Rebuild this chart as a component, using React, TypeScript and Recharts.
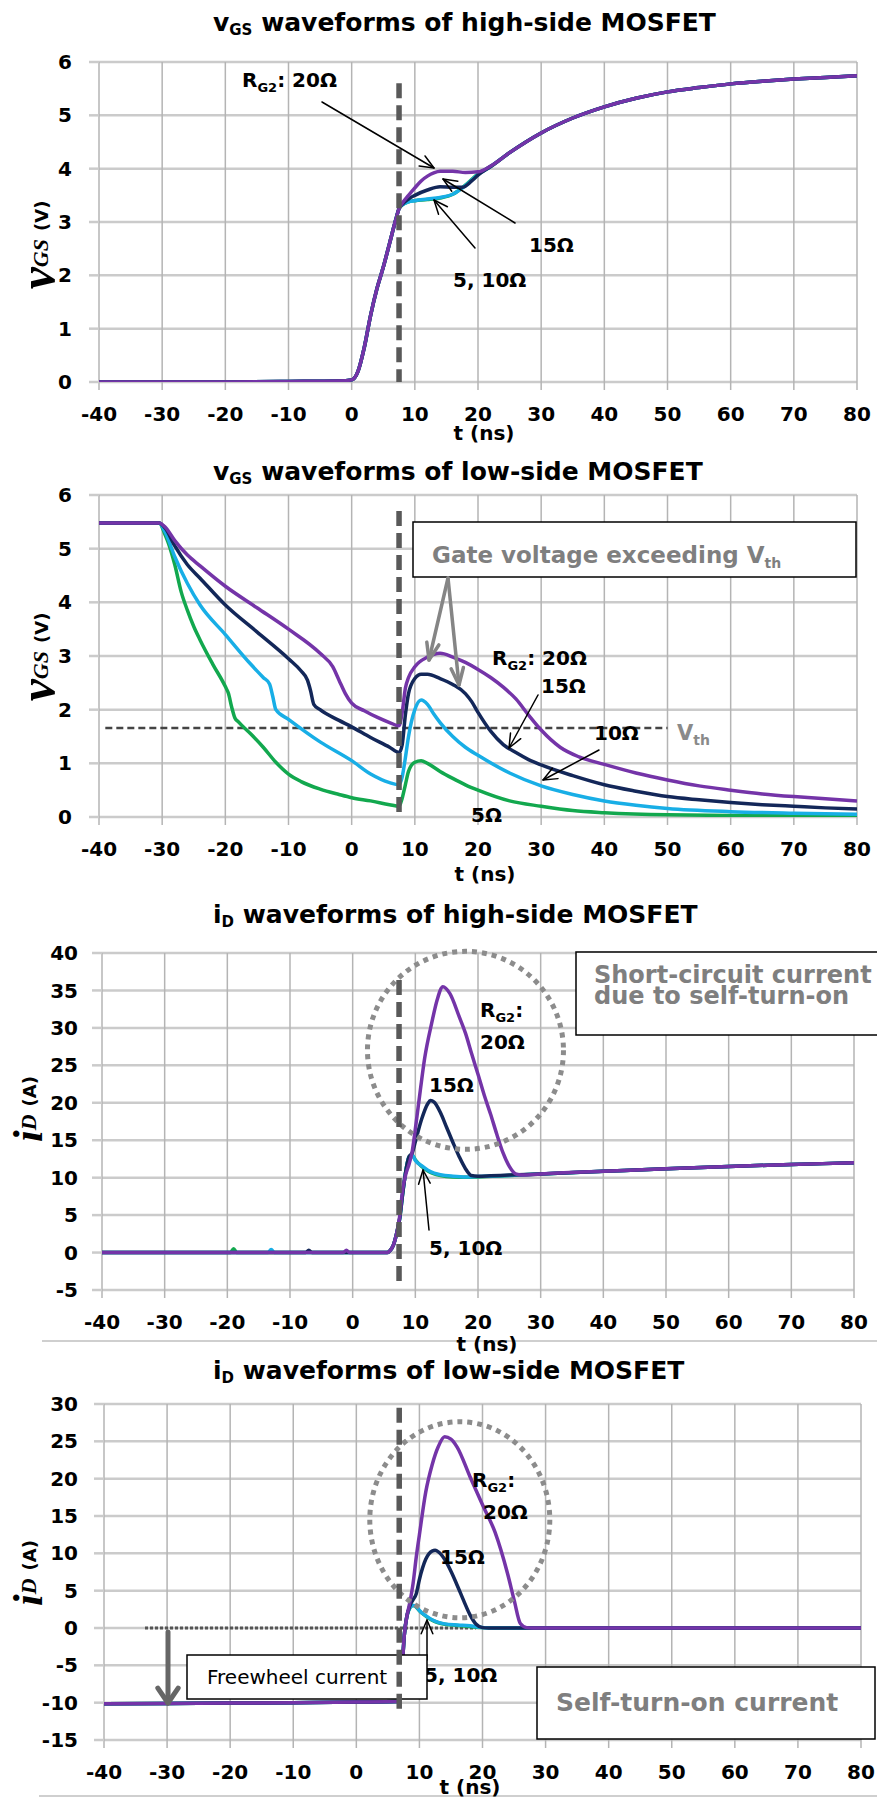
import React from 'react';
import { LineChart, Line, XAxis, YAxis, CartesianGrid, ReferenceLine } from 'recharts';

const W = 877;
const SANS = "'DejaVu Sans', Verdana, sans-serif";
const SERIF = "'Liberation Serif', 'Times New Roman', serif";

const C5 = '#12a84e';
const C10 = '#18aee6';
const C15 = '#132759';
const C20 = '#7434a8';

const T_TICKS = [-40, -30, -20, -10, 0, 10, 20, 30, 40, 50, 60, 70, 80];
const VGS_TICKS = [0, 1, 2, 3, 4, 5, 6];
const IDH_TICKS = [-5, 0, 5, 10, 15, 20, 25, 30, 35, 40];
const IDL_TICKS = [-15, -10, -5, 0, 5, 10, 15, 20, 25, 30];

// ---- Panel 1: vGS high-side ----
const HV_T_20 = [-40, -20, -10, -2, 0, 1, 2, 3, 4, 5, 6, 7, 7.5, 8, 9, 10, 11, 12, 13, 14, 16, 18, 20, 22, 25, 30, 35, 40, 45, 50, 55, 60, 65, 70, 75, 80];
const HV_V_20 = [0, 0, 0.01, 0.02, 0.04, 0.2, 0.65, 1.25, 1.75, 2.15, 2.6, 3.05, 3.25, 3.35, 3.5, 3.64, 3.77, 3.86, 3.92, 3.95, 3.95, 3.93, 3.94, 4.05, 4.3, 4.67, 4.95, 5.16, 5.32, 5.44, 5.52, 5.59, 5.64, 5.68, 5.71, 5.74];
const HV_T_15 = [-40, -20, -10, -2, 0, 1, 2, 3, 4, 5, 6, 7, 7.5, 8, 9, 10, 12, 14, 16, 17.5, 19, 20, 22, 25, 30, 35, 40, 45, 50, 55, 60, 65, 70, 75, 80];
const HV_V_15 = [0, 0, 0.01, 0.02, 0.04, 0.2, 0.65, 1.25, 1.75, 2.15, 2.6, 3.05, 3.25, 3.33, 3.43, 3.5, 3.6, 3.66, 3.65, 3.65, 3.77, 3.88, 4.04, 4.3, 4.67, 4.95, 5.16, 5.32, 5.44, 5.52, 5.59, 5.64, 5.68, 5.71, 5.74];
const HV_T_10 = [-40, -20, -10, -2, 0, 1, 2, 3, 4, 5, 6, 7, 7.5, 8, 9, 10, 12, 14, 16, 18, 20, 22, 25, 30, 35, 40, 45, 50, 55, 60, 65, 70, 75, 80];
const HV_V_10 = [0, 0, 0.01, 0.02, 0.04, 0.2, 0.65, 1.25, 1.75, 2.15, 2.6, 3.05, 3.25, 3.32, 3.38, 3.4, 3.43, 3.46, 3.52, 3.68, 3.89, 4.04, 4.3, 4.67, 4.95, 5.16, 5.32, 5.44, 5.52, 5.59, 5.64, 5.68, 5.71, 5.74];
const HV_T_5 = [-40, -20, -10, -2, 0, 1, 2, 3, 4, 5, 6, 7, 7.5, 8, 9, 10, 12, 14, 16, 18, 20, 22, 25, 30, 35, 40, 45, 50, 55, 60, 65, 70, 75, 80];
const HV_V_5 = [0, 0, 0.01, 0.02, 0.04, 0.2, 0.65, 1.25, 1.75, 2.15, 2.6, 3.05, 3.25, 3.32, 3.38, 3.4, 3.42, 3.45, 3.52, 3.69, 3.9, 4.04, 4.3, 4.67, 4.95, 5.16, 5.32, 5.44, 5.52, 5.59, 5.64, 5.68, 5.71, 5.74];

// ---- Panel 2: vGS low-side ----
const LV_T_20 = [-40, -30.5, -29.5, -28, -26, -24, -20, -15, -10, -5, -3, -2, -1, 0, 2, 4, 6, 7.5, 8, 8.5, 9, 10, 12, 14, 16, 18, 20, 22, 24, 26, 28, 30, 33, 36, 40, 45, 50, 55, 60, 65, 70, 75, 80];
const LV_V_20 = [5.48, 5.48, 5.4, 5.15, 4.88, 4.68, 4.3, 3.9, 3.5, 3.05, 2.8, 2.55, 2.3, 2.12, 1.98, 1.86, 1.76, 1.7, 1.95, 2.4, 2.6, 2.8, 2.98, 3.05, 2.98, 2.88, 2.75, 2.6, 2.42, 2.2, 1.9, 1.62, 1.3, 1.12, 0.98, 0.82, 0.69, 0.58, 0.5, 0.43, 0.38, 0.34, 0.3];
const LV_T_15 = [-40, -30.5, -29.5, -28, -26, -24, -20, -15, -10, -8, -7, -6.5, -6, -5, -2, 0, 3, 6, 7.5, 8, 8.5, 9, 10, 11, 12, 14, 16, 18, 19, 20, 22, 24, 26, 28, 30, 35, 40, 45, 50, 55, 60, 65, 70, 75, 80];
const LV_V_15 = [5.48, 5.48, 5.38, 5.05, 4.7, 4.45, 3.95, 3.45, 2.95, 2.72, 2.55, 2.35, 2.1, 2.0, 1.8, 1.68, 1.48, 1.3, 1.2, 1.35, 1.9, 2.3, 2.58, 2.66, 2.66, 2.58, 2.47, 2.3, 2.15, 1.95, 1.6, 1.35, 1.2, 1.07, 0.97, 0.77, 0.6, 0.48, 0.38, 0.32, 0.27, 0.23, 0.2, 0.17, 0.15];
const LV_T_10 = [-40, -30.5, -29.5, -28, -26, -24, -20, -16, -14, -13, -12.5, -12, -10, -5, 0, 3, 6, 7.5, 8, 8.5, 9, 10, 11, 12, 13, 14, 16, 18, 20, 25, 30, 35, 40, 45, 50, 60, 70, 80];
const LV_V_10 = [5.48, 5.48, 5.3, 4.85, 4.35, 3.95, 3.4, 2.85, 2.6, 2.48, 2.25, 2.0, 1.82, 1.4, 1.05, 0.8, 0.64, 0.6, 0.75, 1.1, 1.5, 2.0, 2.18, 2.1, 1.92, 1.76, 1.5, 1.3, 1.15, 0.82, 0.58, 0.42, 0.3, 0.22, 0.16, 0.1, 0.07, 0.05];
const LV_T_5 = [-40, -30.5, -29.5, -29, -28, -27, -26, -25, -24, -22, -20, -19.5, -19, -18.5, -18, -16, -14, -12, -10, -8, -5, -2, 0, 3, 6, 7.5, 8, 8.5, 9, 10, 11, 12, 14, 16, 18, 20, 25, 30, 35, 40, 50, 60, 80];
const LV_V_5 = [5.48, 5.48, 5.25, 5.1, 4.7, 4.2, 3.85, 3.55, 3.3, 2.85, 2.43, 2.3, 2.05, 1.85, 1.78, 1.55, 1.3, 1.02, 0.8, 0.66, 0.52, 0.42, 0.36, 0.3, 0.23, 0.2, 0.35, 0.6, 0.85, 1.02, 1.05, 1.0, 0.85, 0.72, 0.6, 0.5, 0.3, 0.2, 0.12, 0.08, 0.04, 0.03, 0.02];

// ---- Panel 3: iD high-side ----
const IH_T_5 = [-40, -20, -19.5, -19, -18.5, -10, 0, 5.5, 6, 6.5, 7, 7.5, 8, 8.5, 9, 9.5, 10, 11, 12, 13, 14, 16, 18, 20, 25, 30, 40, 50, 60, 70, 80];
const IH_V_5 = [0, 0, 0, 0.5, 0, 0, 0, 0, 0.3, 1, 2.5, 4.5, 8, 11, 12.8, 13, 12.4, 11.5, 10.9, 10.5, 10.3, 10.1, 10.05, 10.1, 10.3, 10.5, 10.85, 11.2, 11.5, 11.75, 12];
const IH_T_10 = [-40, -13.5, -13, -12.5, 0, 5.5, 6, 6.5, 7, 7.5, 8, 8.5, 9, 9.5, 10, 11, 12, 13, 14, 16, 18, 20, 25, 30, 40, 50, 60, 70, 80];
const IH_V_10 = [0, 0, 0.4, 0, 0, 0, 0.3, 1, 2.5, 4.5, 8, 11, 12.8, 13, 12.3, 11.6, 11, 10.6, 10.4, 10.2, 10.1, 10.15, 10.3, 10.5, 10.85, 11.2, 11.5, 11.75, 12];
const IH_T_15 = [-40, -7.5, -7, -6.5, 0, 5.5, 6, 6.5, 7, 7.5, 8, 8.5, 9, 9.5, 10, 11, 12, 12.4, 13, 14, 15, 16, 17, 18, 18.9, 20, 22, 25, 30, 40, 50, 60, 70, 80];
const IH_V_15 = [0, 0, 0.3, 0, 0, 0, 0.3, 1, 2.5, 4.5, 8, 11, 12.8, 13.3, 14.8, 17.8, 19.9, 20.3, 20.1, 18.7, 16.7, 14.7, 12.8, 11.2, 10.3, 10.2, 10.25, 10.35, 10.5, 10.85, 11.2, 11.5, 11.75, 12];
const IH_T_20 = [-40, -1.5, -1, -0.5, 5.5, 6, 6.5, 7, 7.5, 8, 8.5, 9, 9.5, 10, 10.8, 11.5, 12.6, 13.5, 14.4, 15.5, 17, 18, 19, 20, 21, 22, 23, 24, 25, 26, 27, 30, 40, 50, 60, 70, 80];
const IH_V_20 = [0, 0, 0.3, 0, 0, 0.3, 1, 2.5, 4.8, 8.5, 10.5, 11.8, 13.5, 16.5, 21.7, 26, 30.6, 33.8, 35.5, 34.6, 31.5, 29.3, 26.5, 23.8, 21, 18.5, 15.8, 13.3, 11.5, 10.5, 10.35, 10.5, 10.85, 11.2, 11.5, 11.75, 12];

// ---- Panel 4: iD low-side ----
const IL_T_5 = [-40, -30, -20, -10, 0, 6.5, 7, 7.3, 7.6, 8, 8.5, 9, 9.5, 10, 11, 12, 13, 14, 16, 18, 20, 22, 30, 40, 50, 60, 70, 80];
const IL_V_5 = [-10.15, -10.1, -10.05, -10, -9.92, -9.85, -9.3, -5, -1, 1.5, 2.7, 3.0, 2.8, 2.3, 1.6, 1.05, 0.7, 0.5, 0.35, 0.2, 0.05, 0, 0, 0, 0, 0, 0, 0];
const IL_T_10 = [-40, -30, -20, -10, 0, 6.5, 7, 7.3, 7.6, 8, 8.5, 9, 9.5, 10, 11, 12, 13, 14, 16, 18, 19.5, 21, 30, 40, 50, 60, 70, 80];
const IL_V_10 = [-10.15, -10.1, -10.05, -10, -9.92, -9.85, -9.3, -5, -1, 1.5, 2.7, 3.0, 2.85, 2.35, 1.65, 1.1, 0.75, 0.55, 0.4, 0.3, 0.1, 0, 0, 0, 0, 0, 0, 0];
const IL_T_15 = [-40, -30, -20, -10, 0, 6.5, 7, 7.3, 7.6, 8, 8.5, 9, 9.5, 10, 11, 12, 12.5, 13, 14, 15, 16, 17, 18, 19, 20, 21, 30, 40, 50, 60, 70, 80];
const IL_V_15 = [-10.15, -10.1, -10.05, -10, -9.92, -9.85, -9.3, -5, -1, 1.5, 3.0, 3.8, 4.6, 6.5, 9.2, 10.3, 10.4, 10.2, 9.2, 7.6, 5.7, 3.7, 1.8, 0.5, 0.05, 0, 0, 0, 0, 0, 0, 0];
const IL_T_20 = [-40, -30, -20, -10, 0, 6.5, 7, 7.3, 7.6, 8, 8.5, 9, 9.5, 10, 11, 12, 13, 14, 15, 16, 18, 20, 22, 24, 25, 26, 27, 28, 30, 40, 50, 60, 70, 80];
const IL_V_20 = [-10.15, -10.1, -10.05, -10, -9.92, -9.85, -9.3, -5, -1, 1.5, 3.5, 6, 9.5, 12.5, 18.2, 21.8, 24.3, 25.6, 25.3, 24.2, 20.3, 16.5, 12.8, 7.2, 3.8, 0.6, 0.05, 0, 0, 0, 0, 0, 0, 0];

type Pt = { t: number; v: number };
const zip = (t: number[], v: number[]): Pt[] => t.map((x, i) => ({ t: x, v: v[i] }));

type Geo = { top: number; height: number; left: number; right: number; plotTop: number; plotBottom: number; min: number; max: number };
const G1: Geo = { top: 0, height: 450, left: 99, right: 857, plotTop: 62, plotBottom: 382, min: 0, max: 6 };
const G2: Geo = { top: 450, height: 440, left: 99, right: 857, plotTop: 495, plotBottom: 817, min: 0, max: 6 };
const G3: Geo = { top: 890, height: 450, left: 102, right: 854, plotTop: 953, plotBottom: 1290, min: -5, max: 40 };
const G4: Geo = { top: 1340, height: 460, left: 104, right: 861, plotTop: 1404, plotBottom: 1740, min: -15, max: 30 };

const X = (g: Geo, t: number) => g.left + ((t + 40) / 120) * (g.right - g.left);
const Y = (g: Geo, v: number) => g.plotTop + ((g.max - v) / (g.max - g.min)) * (g.plotBottom - g.plotTop);

type Series = { key: string; color: string; data: Pt[] };

const S1: Series[] = [
  { key: 'r5', color: C5, data: zip(HV_T_5, HV_V_5) },
  { key: 'r10', color: C10, data: zip(HV_T_10, HV_V_10) },
  { key: 'r15', color: C15, data: zip(HV_T_15, HV_V_15) },
  { key: 'r20', color: C20, data: zip(HV_T_20, HV_V_20) },
];
const S2: Series[] = [
  { key: 'r5', color: C5, data: zip(LV_T_5, LV_V_5) },
  { key: 'r10', color: C10, data: zip(LV_T_10, LV_V_10) },
  { key: 'r15', color: C15, data: zip(LV_T_15, LV_V_15) },
  { key: 'r20', color: C20, data: zip(LV_T_20, LV_V_20) },
];
const S3: Series[] = [
  { key: 'r5', color: C5, data: zip(IH_T_5, IH_V_5) },
  { key: 'r10', color: C10, data: zip(IH_T_10, IH_V_10) },
  { key: 'r15', color: C15, data: zip(IH_T_15, IH_V_15) },
  { key: 'r20', color: C20, data: zip(IH_T_20, IH_V_20) },
];
const S4: Series[] = [
  { key: 'r5', color: C5, data: zip(IL_T_5, IL_V_5) },
  { key: 'r10', color: C10, data: zip(IL_T_10, IL_V_10) },
  { key: 'r15', color: C15, data: zip(IL_T_15, IL_V_15) },
  { key: 'r20', color: C20, data: zip(IL_T_20, IL_V_20) },
];

const tickStyle = { fill: '#000', fontSize: 20, fontWeight: 700, fontFamily: SANS };

function WaveChart({ g, yTicks, series, tickMarginY, children }: { g: Geo; yTicks: number[]; series: Series[]; tickMarginY: number; children?: React.ReactNode }) {
  return (
    <div style={{ position: 'absolute', left: 0, top: g.top, width: W, height: g.height }}>
      <LineChart width={W} height={g.height} margin={{ top: g.plotTop - g.top, right: W - g.right, bottom: 0, left: 0 }}>
        <CartesianGrid vertical={false} stroke="#cbcbcb" strokeWidth={2.5} />
        <CartesianGrid horizontal={false} stroke="#b4b4b4" strokeWidth={1.5} />
        <XAxis
          type="number"
          dataKey="t"
          domain={[-40, 80]}
          ticks={T_TICKS}
          interval={0}
          allowDataOverflow
          height={g.top + g.height - g.plotBottom}
          axisLine={false}
          tickLine={{ stroke: '#b4b4b4', strokeWidth: 1.5 }}
          tickSize={8}
          tickMargin={17}
          tick={tickStyle}
        />
        <YAxis
          type="number"
          domain={[g.min, g.max]}
          ticks={yTicks}
          interval={0}
          allowDataOverflow
          width={g.left}
          axisLine={false}
          tickLine={{ stroke: '#cbcbcb', strokeWidth: 2.5 }}
          tickSize={10}
          tickMargin={tickMarginY}
          tick={tickStyle}
        />
        {children}
        {series.map((s) => (
          <Line
            key={s.key}
            data={s.data}
            dataKey="v"
            type="monotone"
            stroke={s.color}
            strokeWidth={3.5}
            dot={false}
            activeDot={false}
            isAnimationActive={false}
          />
        ))}
      </LineChart>
    </div>
  );
}

function Arrow({ x1, y1, x2, y2, color = '#000', w = 1.5, head = 15, spread = 0.4 }: { x1: number; y1: number; x2: number; y2: number; color?: string; w?: number; head?: number; spread?: number }) {
  const a = Math.atan2(y2 - y1, x2 - x1);
  const p1 = `${x2 - head * Math.cos(a - spread)},${y2 - head * Math.sin(a - spread)}`;
  const p2 = `${x2 - head * Math.cos(a + spread)},${y2 - head * Math.sin(a + spread)}`;
  return (
    <g stroke={color} strokeWidth={w} fill="none" strokeLinecap="round" strokeLinejoin="round">
      <line x1={x1} y1={y1} x2={x2} y2={y2} />
      <polyline points={`${p1} ${x2},${y2} ${p2}`} />
    </g>
  );
}

function VDash({ g, t, v1, v2 }: { g: Geo; t: number; v1: number; v2: number }) {
  const x = X(g, t);
  return <line x1={x} x2={x} y1={Y(g, v1)} y2={Y(g, v2)} stroke="#595959" strokeWidth={5.5} strokeDasharray="15 7" />;
}

function Lbl({ x, y, children, size = 20, fill = '#000', weight = 700, anchor = 'start' }: { x: number; y: number; children: React.ReactNode; size?: number; fill?: string; weight?: number; anchor?: string }) {
  return (
    <text x={x} y={y} fontSize={size} fontWeight={weight} fill={fill} fontFamily={SANS} textAnchor={anchor as any}>
      {children}
    </text>
  );
}

function RG2({ x, y, rest }: { x: number; y: number; rest: string }) {
  return (
    <Lbl x={x} y={y}>
      R<tspan fontSize={13} dy={5}>G2</tspan>
      <tspan dy={-5}>{rest}</tspan>
    </Lbl>
  );
}

function Title({ y, main, sub, rest }: { y: number; main: string; sub: string; rest: string }) {
  return (
    <Lbl x={213} y={y} size={25}>
      {main}
      <tspan fontSize={15} dy={4}>{sub}</tspan>
      <tspan dy={-4}>{rest}</tspan>
    </Lbl>
  );
}

function YLabel({ x, cy, main, sub, unit, mainSize }: { x: number; cy: number; main: string; sub: string; unit: string; mainSize: number }) {
  return (
    <text x={x} y={cy} transform={`rotate(-90 ${x} ${cy})`} textAnchor="middle" fontFamily={SERIF} fontWeight={700} fill="#000">
      <tspan fontSize={mainSize} fontStyle="italic">{main}</tspan>
      <tspan fontSize={22} fontStyle="italic" dy={-6}>{sub}</tspan>
      <tspan fontSize={18} fontFamily={SANS} dx={8}>{unit}</tspan>
    </text>
  );
}

function Overlay() {
  return (
    <svg width={W} height={1800} style={{ position: 'absolute', left: 0, top: 0, pointerEvents: 'none' }}>
      {/* separators */}
      <line x1={42} y1={1341} x2={W} y2={1341} stroke="#cfcfcf" strokeWidth={2} />
      <line x1={39} y1={1796} x2={W} y2={1796} stroke="#cfcfcf" strokeWidth={2} />

      {/* titles */}
      <Title y={31} main="v" sub="GS" rest=" waveforms of high-side MOSFET" />
      <Title y={480} main="v" sub="GS" rest=" waveforms of low-side MOSFET" />
      <Title y={923} main="i" sub="D" rest=" waveforms of high-side MOSFET" />
      <Title y={1379} main="i" sub="D" rest=" waveforms of low-side MOSFET" />

      {/* y labels */}
      <YLabel x={54} cy={245} main="v" sub="GS" unit="(V)" mainSize={50} />
      <YLabel x={54} cy={657} main="v" sub="GS" unit="(V)" mainSize={50} />
      <YLabel x={42} cy={1109} main="i" sub="D" unit="(A)" mainSize={42} />
      <YLabel x={42} cy={1573} main="i" sub="D" unit="(A)" mainSize={42} />

      {/* x labels */}
      <Lbl x={484} y={440} anchor="middle">t (ns)</Lbl>
      <Lbl x={485} y={881} anchor="middle">t (ns)</Lbl>
      <Lbl x={487} y={1351} anchor="middle">t (ns)</Lbl>
      <Lbl x={470} y={1794} anchor="middle">t (ns)</Lbl>

      {/* Panel 1 annotations */}
      <VDash g={G1} t={7.5} v1={5.6} v2={0} />
      <RG2 x={242} y={87} rest=": 20Ω" />
      <Arrow x1={322} y1={102} x2={434} y2={168} />
      <Lbl x={529} y={252}>15Ω</Lbl>
      <Arrow x1={515} y1={223} x2={443} y2={179} />
      <Lbl x={453} y={287}>5, 10Ω</Lbl>
      <Arrow x1={475} y1={248} x2={434} y2={200} />

      {/* Panel 2 annotations */}
      <VDash g={G2} t={7.5} v1={5.7} v2={0} />
      <rect x={413} y={522} width={443} height={55} fill="#fff" stroke="#000" strokeWidth={1.5} />
      <Lbl x={432} y={563} size={23} fill="#7f7f7f">
        Gate voltage exceeding V<tspan fontSize={14} dy={5}>th</tspan>
      </Lbl>
      <Arrow x1={448} y1={578} x2={429} y2={660} color="#858585" w={3.5} head={18} spread={0.35} />
      <Arrow x1={448} y1={578} x2={459} y2={685} color="#858585" w={3.5} head={18} spread={0.35} />
      <RG2 x={492} y={665} rest=": 20Ω" />
      <Lbl x={541} y={693}>15Ω</Lbl>
      <Arrow x1={538} y1={695} x2={509} y2={748} />
      <Lbl x={594} y={740}>10Ω</Lbl>
      <Arrow x1={599} y1={750} x2={543} y2={780} />
      <Lbl x={471} y={822}>5Ω</Lbl>
      <Lbl x={677} y={740} size={21} fill="#8a8a8a">
        V<tspan fontSize={14} dy={5}>th</tspan>
      </Lbl>

      {/* Panel 3 annotations */}
      <ellipse cx={X(G3, 18)} cy={Y(G3, 27)} rx={98} ry={99} fill="none" stroke="#8c8c8c" strokeWidth={5} strokeDasharray="5 5" />
      <VDash g={G3} t={7.4} v1={36.4} v2={-4.6} />
      <rect x={576} y={952} width={330} height={83} fill="#fff" stroke="#000" strokeWidth={1.5} />
      <Lbl x={594} y={983} size={24} fill="#7f7f7f">Short-circuit current</Lbl>
      <Lbl x={594} y={1004} size={24} fill="#7f7f7f">due to self-turn-on</Lbl>
      <RG2 x={480} y={1017} rest=":" />
      <Lbl x={480} y={1049}>20Ω</Lbl>
      <Lbl x={429} y={1092}>15Ω</Lbl>
      <Lbl x={429} y={1255}>5, 10Ω</Lbl>
      <Arrow x1={429} y1={1230} x2={423} y2={1170} />

      {/* Panel 4 annotations */}
      <ellipse cx={X(G4, 16.4)} cy={Y(G4, 14.5)} rx={90} ry={98} fill="none" stroke="#8c8c8c" strokeWidth={5} strokeDasharray="5 5" />
      <RG2 x={472} y={1487} rest=":" />
      <Lbl x={483} y={1519}>20Ω</Lbl>
      <Lbl x={440} y={1564}>15Ω</Lbl>
      <Lbl x={424} y={1682}>5, 10Ω</Lbl>
      <Arrow x1={427} y1={1660} x2={427} y2={1620} />
      <rect x={187} y={1655} width={240} height={44} fill="#fff" stroke="#000" strokeWidth={1.5} />
      <Lbl x={207} y={1684} weight={400}>Freewheel current</Lbl>
      <rect x={537} y={1667} width={338} height={72} fill="#fff" stroke="#000" strokeWidth={1.5} />
      <Lbl x={556} y={1711} size={25} fill="#7f7f7f">Self-turn-on current</Lbl>
      <Arrow x1={168} y1={1632} x2={168} y2={1703} color="#666" w={5} head={18} spread={0.6} />
      <VDash g={G4} t={6.8} v1={29.5} v2={-11.5} />
    </svg>
  );
}

export default function App() {
  return (
    <div style={{ position: 'absolute', left: 0, top: 0, width: W, height: 1800, background: '#fff', overflow: 'hidden' }}>
      <WaveChart g={G1} yTicks={VGS_TICKS} series={S1} tickMarginY={17} />
      <WaveChart g={G2} yTicks={VGS_TICKS} series={S2} tickMarginY={17}>
        <ReferenceLine segment={[{ x: -39, y: 1.66 }, { x: 50, y: 1.66 }]} stroke="#444" strokeWidth={2.5} strokeDasharray="7 4" />
      </WaveChart>
      <WaveChart g={G3} yTicks={IDH_TICKS} series={S3} tickMarginY={14} />
      <WaveChart g={G4} yTicks={IDL_TICKS} series={S4} tickMarginY={16}>
        <ReferenceLine segment={[{ x: -33.5, y: 0 }, { x: 19, y: 0 }]} stroke="#555" strokeWidth={3} strokeDasharray="3 2" />
      </WaveChart>
      <Overlay />
    </div>
  );
}
